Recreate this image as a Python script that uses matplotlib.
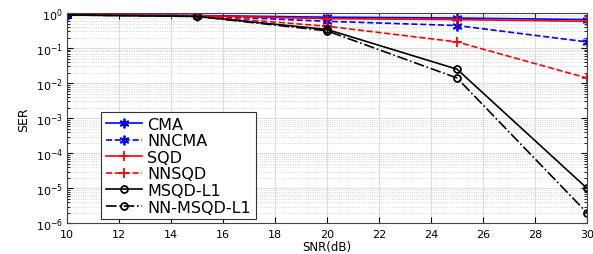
import numpy as np
import matplotlib
matplotlib.use('Agg')
import matplotlib.pyplot as plt

snr = [10, 15, 20, 25, 30]
ser_cma = [0.90, 0.85, 0.76, 0.72, 0.65]
ser_nncma = [0.90, 0.84, 0.58, 0.44, 0.15]
ser_sqd = [0.90, 0.84, 0.69, 0.65, 0.58]
ser_nnsqd = [0.88, 0.83, 0.42, 0.15, 0.014]
ser_msqd = [0.88, 0.80, 0.34, 0.025, 1.0e-5]
ser_nnmsqd = [0.88, 0.80, 0.31, 0.014, 2.0e-6]

plt.rcParams['font.family'] = ['DejaVu Sans']
plt.rcParams['mathtext.fontset'] = 'dejavusans'

fig = plt.figure(figsize=(5.93, 2.55), dpi=100)
ax = fig.add_axes([0.113, 0.12, 0.877, 0.825])

lw = 1.2
star = (6, 2, 0)
ax.semilogy(snr, ser_cma, '-', color='blue', marker=star, ms=7, mew=1.3, lw=lw, label='CMA')
ax.semilogy(snr, ser_nncma, '--', color='blue', marker=star, ms=7, mew=1.3, lw=lw, label='NNCMA')
ax.semilogy(snr, ser_sqd, '-', color='red', marker='+', ms=7, mew=1.3, lw=lw, label='SQD')
ax.semilogy(snr, ser_nnsqd, '--', color='red', marker='+', ms=7, mew=1.3, lw=lw, label='NNSQD')
ax.semilogy(snr, ser_msqd, '-', color='black', marker='o', ms=5, mfc='none', mew=1.3, lw=lw, label='MSQD-L1')
ax.semilogy(snr, ser_nnmsqd, '-.', color='black', marker='o', ms=5, mfc='none', mew=1.3, lw=lw, label='NN-MSQD-L1')

ax.set_xlim(10, 30)
ax.set_ylim(1e-6, 1)
ax.set_xticks(range(10, 31, 2))
ax.grid(True, which='major', color='#dddddd', lw=0.8)
ax.grid(True, which='minor', color='#c8c8c8', ls=':', lw=0.6)
ax.tick_params(which='both', direction='in', top=True, right=True, labelsize=8)
ax.tick_params(axis='x', pad=4)
ax.tick_params(axis='y', pad=3)
ax.tick_params(which='major', length=4)
ax.tick_params(which='minor', length=2)
for s in ax.spines.values():
    s.set_color('#444444')
    s.set_linewidth(0.8)

ax.set_xlabel('SNR(dB)', fontsize=8.5, labelpad=0.5)
ax.set_ylabel('SER', fontsize=9, labelpad=4)

leg = ax.legend(loc='upper left', bbox_to_anchor=(0.065, 0.53), borderaxespad=0,
                fontsize=11.5, handlelength=2.3, handletextpad=0.3, labelspacing=0.1,
                borderpad=0.3, fancybox=False, framealpha=1, edgecolor='#333333')
leg.get_frame().set_linewidth(0.8)

fig.savefig('out.png', dpi=100)
